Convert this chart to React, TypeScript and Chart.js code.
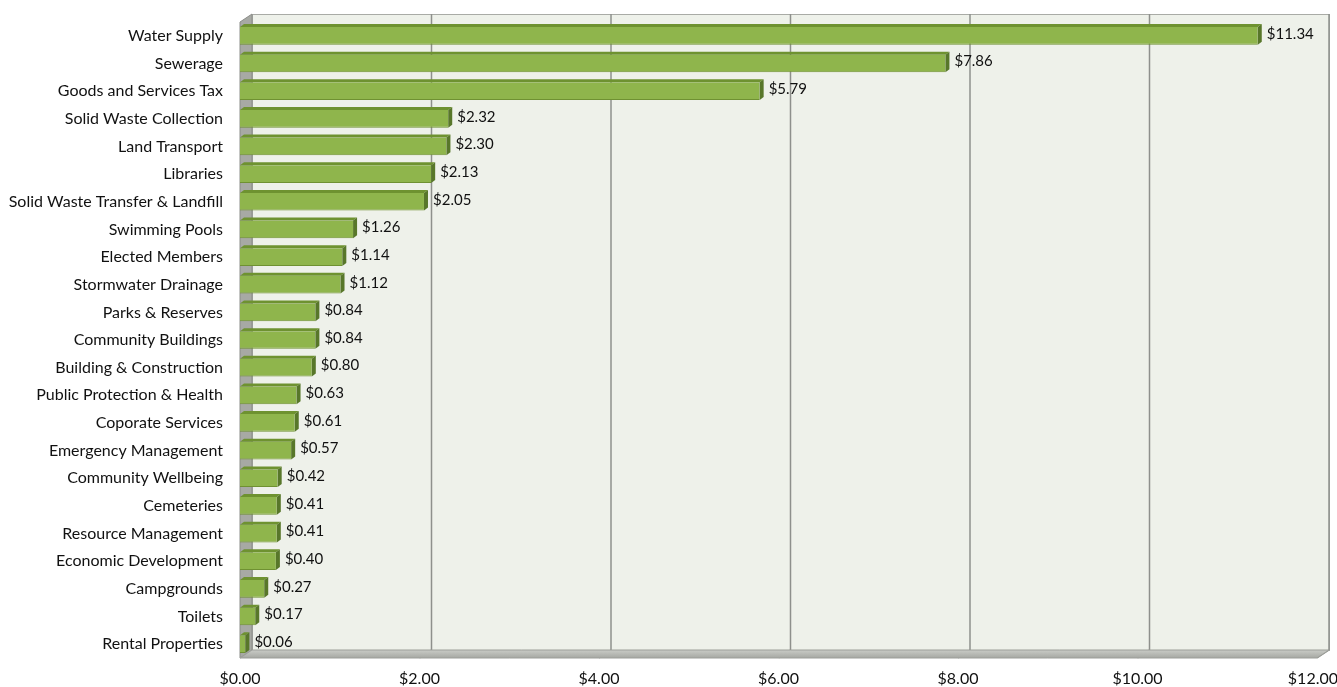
import React, { useEffect, useRef } from "react";
import { Chart, registerables } from "chart.js";

Chart.register(...registerables);

const categories = [
  "Water Supply",
  "Sewerage",
  "Goods and Services Tax",
  "Solid Waste Collection",
  "Land Transport",
  "Libraries",
  "Solid Waste Transfer & Landfill",
  "Swimming Pools",
  "Elected Members",
  "Stormwater Drainage",
  "Parks & Reserves",
  "Community Buildings",
  "Building & Construction",
  "Public Protection & Health",
  "Coporate Services",
  "Emergency Management",
  "Community Wellbeing",
  "Cemeteries",
  "Resource Management",
  "Economic Development",
  "Campgrounds",
  "Toilets",
  "Rental Properties",
];

const costValues = [
  11.34, 7.86, 5.79, 2.32, 2.3, 2.13, 2.05, 1.26, 1.14, 1.12, 0.84, 0.84, 0.8,
  0.63, 0.61, 0.57, 0.42, 0.41, 0.41, 0.4, 0.27, 0.17, 0.06,
];

const xTickValues = [0, 2, 4, 6, 8, 10, 12];

const FONT = "Lato, 'Open Sans', sans-serif";
const DX = 12;
const DY = 8;

const zeroPadding = (s: any) => {
  s.paddingLeft = 0;
  s.paddingRight = 0;
  s.paddingTop = 0;
  s.paddingBottom = 0;
};

const wallPlugin = {
  id: "wall3d",
  beforeDatasetsDraw(chart: any) {
    const { ctx, chartArea, scales } = chart;
    const x = scales.x;
    const left = chartArea.left;
    const right = chartArea.right;
    const top = chartArea.top;
    const bottom = chartArea.bottom;
    ctx.save();
    ctx.fillStyle = "#eef1ea";
    ctx.fillRect(left + DX, top - DY, right - left, bottom - top);
    ctx.strokeStyle = "#a9aba6";
    ctx.lineWidth = 1;
    ctx.strokeRect(left + DX + 0.5, top - DY + 0.5, right - left, bottom - top);
    ctx.strokeStyle = "#8e908c";
    ctx.lineWidth = 1.5;
    xTickValues.forEach((v) => {
      if (v === 0) return;
      const px = x.getPixelForValue(v) + DX;
      ctx.beginPath();
      ctx.moveTo(px, top - DY);
      ctx.lineTo(px, bottom - DY);
      ctx.stroke();
      ctx.beginPath();
      ctx.moveTo(px, bottom - DY);
      ctx.lineTo(px - DX, bottom);
      ctx.stroke();
    });
    ctx.fillStyle = "#a7a9a4";
    ctx.beginPath();
    ctx.moveTo(left, top);
    ctx.lineTo(left + DX, top - DY);
    ctx.lineTo(left + DX, bottom - DY);
    ctx.lineTo(left, bottom);
    ctx.closePath();
    ctx.fill();
    ctx.strokeStyle = "#8a8c88";
    ctx.lineWidth = 1;
    ctx.stroke();
    const g = ctx.createLinearGradient(0, bottom - DY, 0, bottom);
    g.addColorStop(0, "#c9cbc6");
    g.addColorStop(1, "#a6a8a3");
    ctx.fillStyle = g;
    ctx.beginPath();
    ctx.moveTo(left, bottom);
    ctx.lineTo(left + DX, bottom - DY);
    ctx.lineTo(right + DX, bottom - DY);
    ctx.lineTo(right, bottom);
    ctx.closePath();
    ctx.fill();
    ctx.strokeStyle = "#9c9e99";
    ctx.stroke();
    ctx.restore();
  },
};

const barPlugin = {
  id: "bar3d",
  afterDatasetsDraw(chart: any) {
    const { ctx } = chart;
    const meta = chart.getDatasetMeta(0);
    ctx.save();
    meta.data.forEach((bar: any, i: number) => {
      const p = bar.getProps(["x", "y", "base", "height"], true);
      const h = p.height;
      const t = p.y - h / 2;
      const b = p.y + h / 2;
      const x0 = p.base;
      const x1 = p.x;
      const d = 4;
      const dy = 3;
      ctx.fillStyle = "#6e9230";
      ctx.beginPath();
      ctx.moveTo(x0, t);
      ctx.lineTo(x0 + d, t - dy);
      ctx.lineTo(x1 + d, t - dy);
      ctx.lineTo(x1, t);
      ctx.closePath();
      ctx.fill();
      ctx.fillStyle = "#58772a";
      ctx.beginPath();
      ctx.moveTo(x1, t);
      ctx.lineTo(x1 + d, t - dy);
      ctx.lineTo(x1 + d, b - dy);
      ctx.lineTo(x1, b);
      ctx.closePath();
      ctx.fill();
      ctx.fillStyle = "#111";
      ctx.font = `15px ${FONT}`;
      ctx.textAlign = "left";
      ctx.textBaseline = "middle";
      ctx.fillText("$" + costValues[i].toFixed(2), x1 + d + 5, p.y - 2);
    });
    ctx.restore();
  },
};

export default function App() {
  const ref = useRef<HTMLCanvasElement | null>(null);

  useEffect(() => {
    if (!ref.current) return;
    const canvas = ref.current;
    const chart = new Chart(canvas, {
      type: "bar",
      data: {
        labels: categories,
        datasets: [
          {
            data: costValues,
            backgroundColor: (c: any) => {
              const el = c.element;
              if (!el || el.y == null) return "#8fb54c";
              const h = el.height || 18;
              const g = c.chart.ctx.createLinearGradient(0, el.y - h / 2, 0, el.y + h / 2);
              g.addColorStop(0, "#7fa43e");
              g.addColorStop(0.35, "#9cc35a");
              g.addColorStop(1, "#85aa44");
              return g;
            },
            borderColor: "#6f9132",
            borderWidth: { top: 0, bottom: 1, left: 0, right: 0 },
            borderSkipped: false,
            barPercentage: 0.64,
            categoryPercentage: 1,
          },
        ],
      },
      options: {
        indexAxis: "y",
        animation: false,
        responsive: false,
        layout: { padding: { top: 22, right: 20, left: 0, bottom: 0 } },
        plugins: {
          legend: { display: false },
          tooltip: { enabled: false },
        },
        scales: {
          x: {
            type: "linear",
            min: 0,
            max: 12,
            afterFit: (s: any) => {
              s.height = 29;
              zeroPadding(s);
            },
            grid: { display: false, drawTicks: false },
            border: { display: false },
            ticks: {
              stepSize: 2,
              padding: 11,
              color: "#111",
              font: { family: FONT, size: 16 },
              callback: (v: any) =>
                "$" + Number(v).toFixed(2) + (Number(v) === 12 ? "\u00A0\u00A0" : ""),
              maxRotation: 0,
            },
          },
          y: {
            type: "category",
            afterFit: (s: any) => {
              s.width = 240;
              zeroPadding(s);
            },
            grid: { display: false, drawTicks: false },
            border: { display: false },
            ticks: {
              padding: 17,
              color: "#111",
              font: { family: FONT, size: 16 },
              autoSkip: false,
            },
          },
        },
      },
      plugins: [wallPlugin, barPlugin],
    });
    return () => chart.destroy();
  }, []);

  return (
    <div style={{ position: "absolute", left: 0, top: 0, width: 1337, height: 687, background: "#fff" }}>
      <canvas ref={ref} width={1337} height={687} style={{ display: "block" }} />
    </div>
  );
}
